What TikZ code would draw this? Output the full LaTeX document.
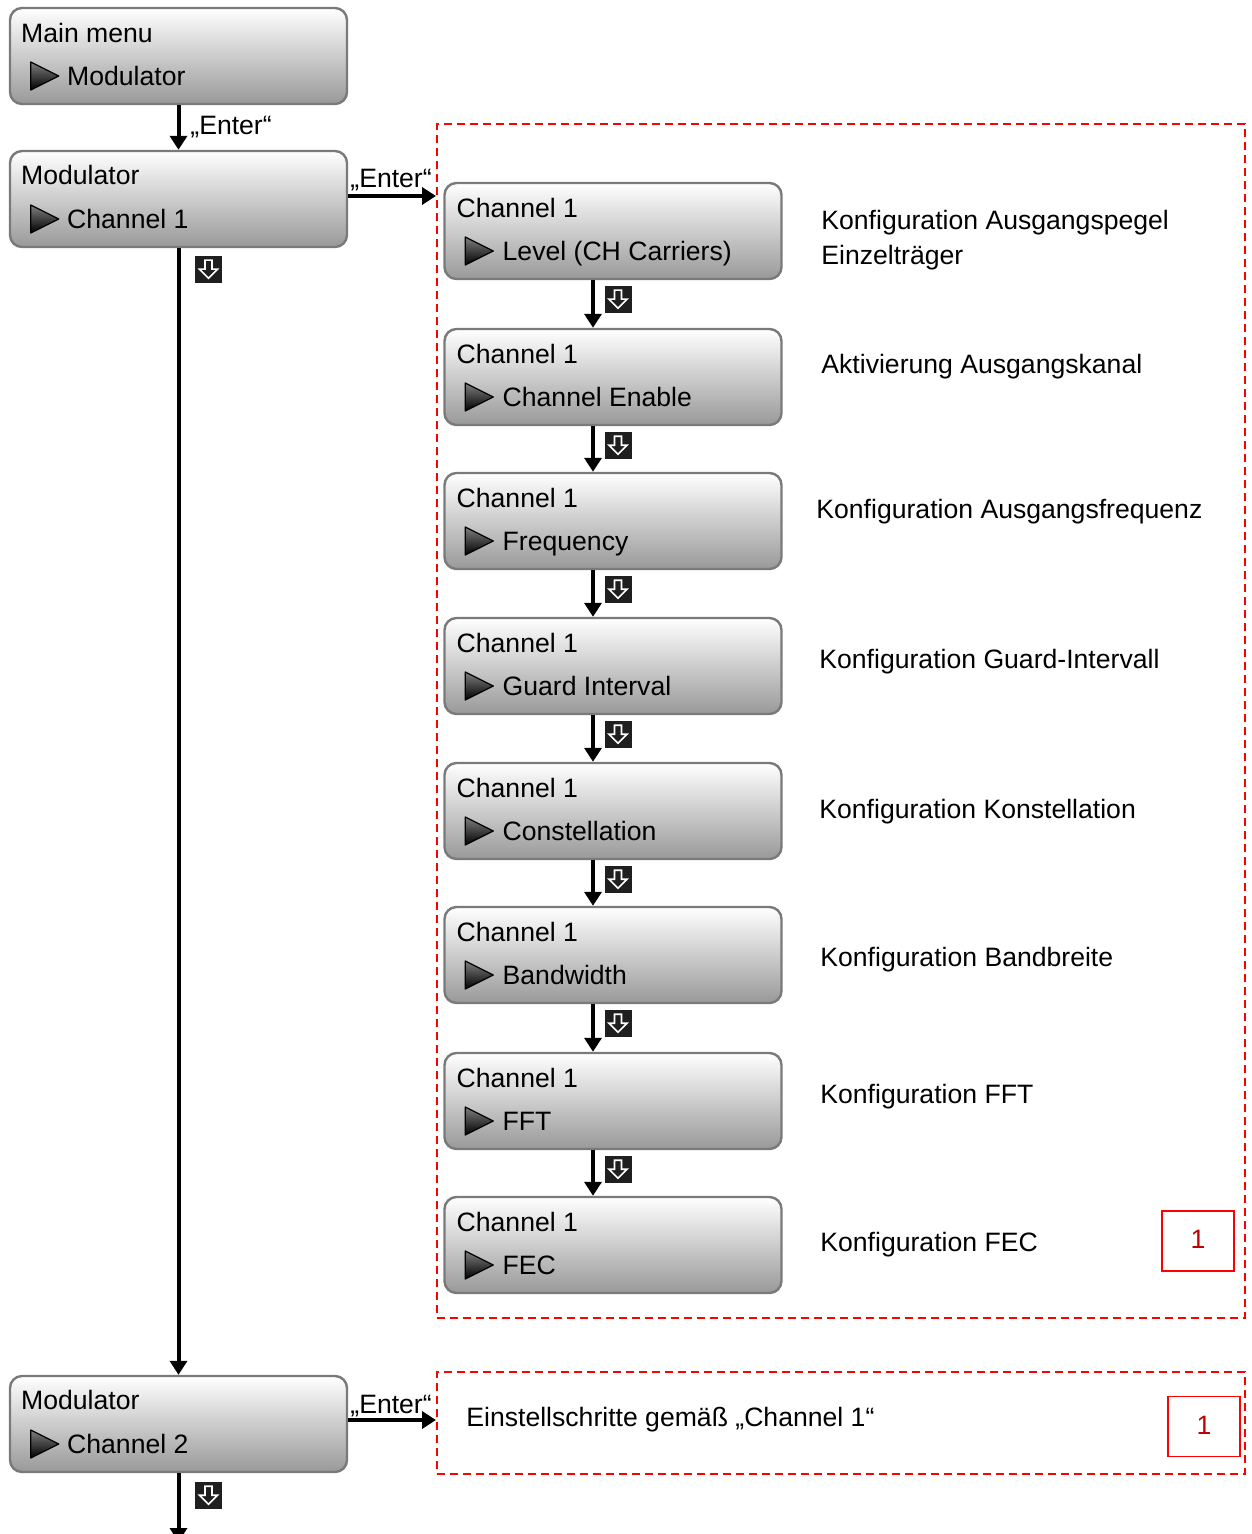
\documentclass[tikz,border=0pt]{standalone}
\usepackage{fontspec}
\setmainfont{Liberation Sans}
\usetikzlibrary{arrows.meta}

\begin{document}
\begin{tikzpicture}[x = 0.5pt, y = -0.5pt, font = \fontsize{13.3pt}{17.5pt}\selectfont]
\tikzstyle{MenuStyle}=[shape = rectangle,
                       rounded corners = 6pt,
                       draw = black!52,
                       line width = 1.2pt,
                       top color = white,
                       bottom color = black!40,
                       minimum width = 168.5pt,
                       minimum height = 48pt,
                       inner sep = 0pt]
\tikzstyle{TextStyle}=[anchor = base west, inner sep = 0pt]
\tikzstyle{MarkStyle}=[draw = black, line width = 0.6pt, line join = round,
                       top color = black!50, bottom color = black]
\tikzstyle{KeyStyle}=[fill = black!88, minimum size = 13.5pt, inner sep = 0pt]
\tikzstyle{GroupStyle}=[draw = red, dash pattern = on 4pt off 2.5pt, line width = 1pt,
                        minimum width = 404pt, inner sep = 0pt]
\tikzstyle{TagStyle}=[draw = red, line width = 0.9pt, minimum width = 36pt,
                      minimum height = 30pt, text = red!75!black]
\tikzstyle{FlowStyle}=[line width = 2pt, -{Triangle[length = 7pt, width = 8.5pt]}]
\tikzset{KeyArrow/.pic = {
  \node[KeyStyle] (-sq) {};
  \draw[white, line width = 0.8pt, line join = miter]
    (-3.5,-9) -- (3.5,-9) -- (3.5,0) -- (9,0) -- (0,9) -- (-9,0) -- (-3.5,0) -- cycle;
}}
\useasboundingbox (0,0) rectangle (1251,1534);
% menu boxes
\node[MenuStyle] (mm) at (178.5, 56) {};
\node[MenuStyle] (m1) at (178.5, 199) {};
\node[MenuStyle] (m2) at (178.5, 1424) {};
\node[MenuStyle] (c1) at (613, 231) {};
\node[MenuStyle] (c2) at (613, 377) {};
\node[MenuStyle] (c3) at (613, 521) {};
\node[MenuStyle] (c4) at (613, 666) {};
\node[MenuStyle] (c5) at (613, 811) {};
\node[MenuStyle] (c6) at (613, 955) {};
\node[MenuStyle] (c7) at (613, 1101) {};
\node[MenuStyle] (c8) at (613, 1245) {};
% first line
\node[TextStyle] (mmt) at ([shift={(12,-13.5)}]mm.west) {Main menu};
\node[TextStyle] (m1t) at ([shift={(12,-14.5)}]m1.west) {Modulator};
\node[TextStyle] (m2t) at ([shift={(12,-14.5)}]m2.west) {Modulator};
\node[TextStyle] (c1t) at ([shift={(13,-13.5)}]c1.west) {Channel 1};
\node[TextStyle] (c2t) at ([shift={(13,-13.5)}]c2.west) {Channel 1};
\node[TextStyle] (c3t) at ([shift={(13,-13.5)}]c3.west) {Channel 1};
\node[TextStyle] (c4t) at ([shift={(13,-13.5)}]c4.west) {Channel 1};
\node[TextStyle] (c5t) at ([shift={(13,-13.5)}]c5.west) {Channel 1};
\node[TextStyle] (c6t) at ([shift={(13,-13.5)}]c6.west) {Channel 1};
\node[TextStyle] (c7t) at ([shift={(13,-13.5)}]c7.west) {Channel 1};
\node[TextStyle] (c8t) at ([shift={(13,-13.5)}]c8.west) {Channel 1};
% second line
\node[TextStyle] (mmi) at ([shift={(58,29.5)}]mm.west) {Modulator};
\node[TextStyle] (m1i) at ([shift={(58,29.5)}]m1.west) {Channel 1};
\node[TextStyle] (m2i) at ([shift={(58,29.5)}]m2.west) {Channel 2};
\node[TextStyle] (c1i) at ([shift={(59,29.5)}]c1.west) {Level (CH Carriers)};
\node[TextStyle] (c2i) at ([shift={(59,29.5)}]c2.west) {Channel Enable};
\node[TextStyle] (c3i) at ([shift={(59,29.5)}]c3.west) {Frequency};
\node[TextStyle] (c4i) at ([shift={(59,29.5)}]c4.west) {Guard Interval};
\node[TextStyle] (c5i) at ([shift={(59,29.5)}]c5.west) {Constellation};
\node[TextStyle] (c6i) at ([shift={(59,29.5)}]c6.west) {Bandwidth};
\node[TextStyle] (c7i) at ([shift={(59,29.5)}]c7.west) {FFT};
\node[TextStyle] (c8i) at ([shift={(59,29.5)}]c8.west) {FEC};
% markers
\path[MarkStyle] ([shift={(22,6)}]mm.west) -- ([shift={(50,20)}]mm.west) -- ([shift={(22,34)}]mm.west) -- cycle;
\path[MarkStyle] ([shift={(22,6)}]m1.west) -- ([shift={(50,20)}]m1.west) -- ([shift={(22,34)}]m1.west) -- cycle;
\path[MarkStyle] ([shift={(22,6)}]m2.west) -- ([shift={(50,20)}]m2.west) -- ([shift={(22,34)}]m2.west) -- cycle;
\path[MarkStyle] ([shift={(22,6)}]c1.west) -- ([shift={(50,20)}]c1.west) -- ([shift={(22,34)}]c1.west) -- cycle;
\path[MarkStyle] ([shift={(22,6)}]c2.west) -- ([shift={(50,20)}]c2.west) -- ([shift={(22,34)}]c2.west) -- cycle;
\path[MarkStyle] ([shift={(22,6)}]c3.west) -- ([shift={(50,20)}]c3.west) -- ([shift={(22,34)}]c3.west) -- cycle;
\path[MarkStyle] ([shift={(22,6)}]c4.west) -- ([shift={(50,20)}]c4.west) -- ([shift={(22,34)}]c4.west) -- cycle;
\path[MarkStyle] ([shift={(22,6)}]c5.west) -- ([shift={(50,20)}]c5.west) -- ([shift={(22,34)}]c5.west) -- cycle;
\path[MarkStyle] ([shift={(22,6)}]c6.west) -- ([shift={(50,20)}]c6.west) -- ([shift={(22,34)}]c6.west) -- cycle;
\path[MarkStyle] ([shift={(22,6)}]c7.west) -- ([shift={(50,20)}]c7.west) -- ([shift={(22,34)}]c7.west) -- cycle;
\path[MarkStyle] ([shift={(22,6)}]c8.west) -- ([shift={(50,20)}]c8.west) -- ([shift={(22,34)}]c8.west) -- cycle;
% groups and descriptions
\node[GroupStyle, minimum height = 597pt] (g1) at (841, 721) {};
\node[GroupStyle, minimum height = 51pt] (g2) at (841, 1423) {};
\node[TextStyle] (d1) at (821, 230) {Konfiguration Ausgangspegel};
\node[TextStyle] (d1b) at (821, 265) {Einzelträger};
\node[TextStyle] (d2) at (821, 374) {Aktivierung Ausgangskanal};
\node[TextStyle] (d3) at (816, 518) {Konfiguration Ausgangsfrequenz};
\node[TextStyle] (d4) at (819, 668) {Konfiguration Guard-Intervall};
\node[TextStyle] (d5) at (819, 818) {Konfiguration Konstellation};
\node[TextStyle] (d6) at (820, 966) {Konfiguration Bandbreite};
\node[TextStyle] (d7) at (820, 1103) {Konfiguration FFT};
\node[TextStyle] (d8) at (820, 1251) {Konfiguration FEC};
\node[TextStyle] (d9) at (466, 1426) {Einstellschritte gemäß „Channel 1“};
\node[TagStyle] (t1) at (1198, 1241) {\raisebox{1.5pt}{1}};
\node[TagStyle] (t2) at (1204, 1426.5) {\raisebox{1pt}{1}};
% keys
\pic (k0) at ([shift={(30,21)}]m1.south) {KeyArrow};
\pic (k9) at ([shift={(30,22)}]m2.south) {KeyArrow};
\pic (k1) at ([shift={(5,19)}]c1.south) {KeyArrow};
\pic (k2) at ([shift={(5,19)}]c2.south) {KeyArrow};
\pic (k3) at ([shift={(5,19)}]c3.south) {KeyArrow};
\pic (k4) at ([shift={(5,19)}]c4.south) {KeyArrow};
\pic (k5) at ([shift={(5,19)}]c5.south) {KeyArrow};
\pic (k6) at ([shift={(5,19)}]c6.south) {KeyArrow};
\pic (k7) at ([shift={(5,19)}]c7.south) {KeyArrow};
% connectors
\coordinate (out) at (178.5, 1542);
\draw[FlowStyle] (mm) -- (m1);
\node[TextStyle] (e0) at (190, 135) {„Enter“};
\draw[FlowStyle] ([shift={(0,-3)}]m1.east) -- ([shift={(0,-3)}]m1.east -| g1.west);
\node[TextStyle] (e1) at (350, 188) {„Enter“};
\draw[FlowStyle] (m1) -- (m2);
\draw[FlowStyle] ([shift={(0,-4)}]m2.east) -- ([shift={(0,-4)}]m2.east -| g2.west);
\node[TextStyle] (e2) at (350, 1413) {„Enter“};
\draw[FlowStyle] (m2) -- (out);
\draw[FlowStyle] ([shift={(-20,0)}]c1.south) -- ([shift={(-20,0)}]c2.north);
\draw[FlowStyle] ([shift={(-20,0)}]c2.south) -- ([shift={(-20,0)}]c3.north);
\draw[FlowStyle] ([shift={(-20,0)}]c3.south) -- ([shift={(-20,0)}]c4.north);
\draw[FlowStyle] ([shift={(-20,0)}]c4.south) -- ([shift={(-20,0)}]c5.north);
\draw[FlowStyle] ([shift={(-20,0)}]c5.south) -- ([shift={(-20,0)}]c6.north);
\draw[FlowStyle] ([shift={(-20,0)}]c6.south) -- ([shift={(-20,0)}]c7.north);
\draw[FlowStyle] ([shift={(-20,0)}]c7.south) -- ([shift={(-20,0)}]c8.north);
\end{tikzpicture}
\end{document}
